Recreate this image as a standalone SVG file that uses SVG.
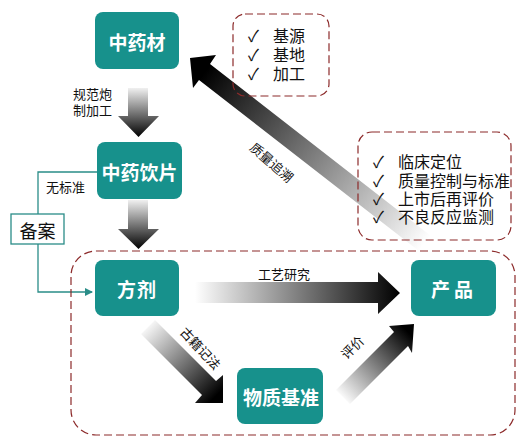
<svg xmlns="http://www.w3.org/2000/svg" width="527" height="446" viewBox="0 0 527 446">
<style>
.node rect{fill:#17918c;}
.node text{fill:#fff;font-family:"Noto Sans CJK SC",sans-serif;font-weight:bold;font-size:19px;text-anchor:middle;dominant-baseline:central;}
.dash{fill:none;stroke:#8c2a2a;stroke-width:1.2;stroke-dasharray:8 4;}
.lbl{font-family:"Noto Sans CJK SC",sans-serif;font-size:13px;fill:#111;}
.chk{font-family:"Noto Sans CJK SC",sans-serif;font-size:16px;fill:#111;dominant-baseline:central;}
.conn{fill:none;stroke:#2a8d88;stroke-width:1.3;}
</style>
<defs>
<linearGradient id="gv1" gradientUnits="userSpaceOnUse" x1="0" y1="86" x2="0" y2="137"><stop offset="0" stop-color="#fafafa"/><stop offset="1" stop-color="#000"/></linearGradient>
<linearGradient id="gv2" gradientUnits="userSpaceOnUse" x1="0" y1="198" x2="0" y2="249"><stop offset="0" stop-color="#fafafa"/><stop offset="1" stop-color="#000"/></linearGradient>
<linearGradient id="gh" gradientUnits="userSpaceOnUse" x1="195" y1="0" x2="400" y2="0"><stop offset="0" stop-color="#fff"/><stop offset="1" stop-color="#000"/></linearGradient>
<linearGradient id="gd1" gradientUnits="userSpaceOnUse" x1="145" y1="325" x2="216" y2="396"><stop offset="0" stop-color="#fff"/><stop offset="1" stop-color="#000"/></linearGradient>
<linearGradient id="gd2" gradientUnits="userSpaceOnUse" x1="340" y1="397" x2="408" y2="332"><stop offset="0" stop-color="#fff"/><stop offset="1" stop-color="#000"/></linearGradient>
<linearGradient id="gbig" gradientUnits="userSpaceOnUse" x1="205" y1="72" x2="425" y2="243"><stop offset="0" stop-color="#000"/><stop offset="1" stop-color="#fff"/></linearGradient>
<marker id="ah" markerWidth="8" markerHeight="8" refX="7" refY="4" orient="auto" markerUnits="userSpaceOnUse"><path d="M0,0 L8,4 L0,8 Z" fill="#2a8d88"/></marker>
</defs>

<g id="connectors">
<polygon points="190,58 216,55 210,64 431,236 419,251 199,80 193,88" fill="url(#gbig)"/>
<polygon points="128,88 148,88 148,116 159,116 138.5,137 118,116 128,116" fill="url(#gv1)"/>
<polygon points="128,200 148,200 148,229 159,229 138.5,249 118,229 128,229" fill="url(#gv2)"/>
<polygon points="195,282 378,282 378,272 400,293 378,314 378,303 195,303" fill="url(#gh)"/>
<polygon points="155,320 216,381 223,375 223,403 195,403 202,395 141,334" fill="url(#gd1)"/>
<polygon points="336,390 394,332 389,326 414,324 412,353 408,346 350,404" fill="url(#gd2)"/>
<polyline class="conn" points="97,172 38,172 38,214"/>
<polyline class="conn" points="38,244 38,292 92,292" marker-end="url(#ah)"/>
</g>

<rect class="dash" x="233" y="14" width="96" height="82" rx="12"/>
<rect class="dash" x="358" y="132" width="153" height="108" rx="14"/>
<rect class="dash" x="71" y="251" width="444" height="184" rx="25"/>

<g id="n-zhongyaocai" class="node"><rect x="95" y="12" width="84" height="57" rx="8"/><text x="137" y="41">中药材</text></g>
<g id="n-yinpian" class="node"><rect x="97" y="142" width="85" height="57" rx="8"/><text x="139.5" y="171">中药饮片</text></g>
<g id="n-fangji" class="node"><rect x="95" y="260" width="84" height="56" rx="8"/><text x="137" y="288" letter-spacing="1">方剂</text></g>
<g id="n-wuzhi" class="node"><rect x="237" y="368" width="86" height="56" rx="8"/><text x="281" y="396">物质基准</text></g>
<g id="n-chanpin" class="node"><rect x="411" y="260" width="85" height="56" rx="8"/><text x="454" y="288" letter-spacing="4">产品</text></g>
<g id="n-beian"><rect x="11" y="214" width="53" height="30" fill="#fff" stroke="#2a8d88" stroke-width="1.3"/><text x="37.5" y="229.5" font-family="'Noto Sans CJK SC',sans-serif" font-size="18" fill="#111" text-anchor="middle" dominant-baseline="central">备案</text></g>

<g id="list-top">
<text class="chk" x="248" y="35">✓</text><text class="chk" x="273" y="35">基源</text>
<text class="chk" x="248" y="54">✓</text><text class="chk" x="273" y="54">基地</text>
<text class="chk" x="248" y="73">✓</text><text class="chk" x="273" y="73">加工</text>
</g>
<g id="list-right">
<text class="chk" x="373" y="161">✓</text><text class="chk" x="398" y="161">临床定位</text>
<text class="chk" x="373" y="180">✓</text><text class="chk" x="398" y="180">质量控制与标准</text>
<text class="chk" x="373" y="198">✓</text><text class="chk" x="398" y="198">上市后再评价</text>
<text class="chk" x="373" y="216">✓</text><text class="chk" x="398" y="216">不良反应监测</text>
</g>

<text class="lbl" x="73" y="99">规范炮</text>
<text class="lbl" x="73" y="115">制加工</text>
<text class="lbl" x="46" y="192">无标准</text>
<text class="lbl" x="284" y="279" text-anchor="middle">工艺研究</text>
<text class="lbl" text-anchor="middle" dominant-baseline="central" transform="translate(272,162) rotate(41)">质量追溯</text>
<text class="lbl" text-anchor="middle" dominant-baseline="central" transform="translate(201,348) rotate(47)">古籍记法</text>
<text class="lbl" text-anchor="middle" dominant-baseline="central" transform="translate(352,347) rotate(-45)">评价</text>
</svg>
